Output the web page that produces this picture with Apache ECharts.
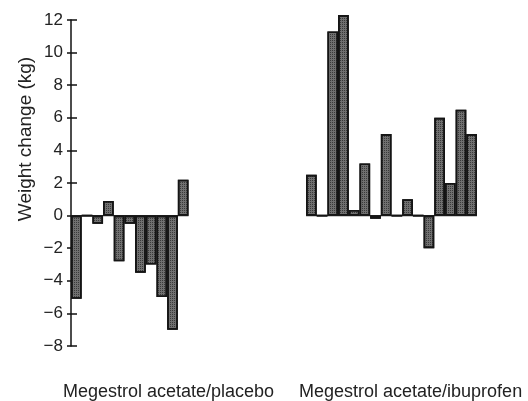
<!DOCTYPE html>
<html>
<head>
<meta charset="utf-8">
<style>
  html, body { margin: 0; padding: 0; background: #fff; }
  #chart { width: 528px; height: 401px; }
</style>
<script src="https://cdn.jsdelivr.net/npm/echarts@6/dist/echarts.min.js"></script>
</head>
<body>
<div id="chart"></div>
<script>
// Weight change per patient (kg)
const groupNames = ['Megestrol acetate/placebo', 'Megestrol acetate/ibuprofen'];
const placebo = [-5.1, 0, -0.5, 0.9, -2.8, -0.5, -3.5, -3.0, -5.0, -7.0, 2.2];
const ibuprofen = [2.5, 0, 11.3, 12.3, 0.35, 3.2, -0.2, 5.0, 0, 1.0, 0, -2.0, 6.0, 2.0, 6.5, 5.0];
const gapSlots = 11; // empty slots between the two groups
const yTicks = { min: -8, max: 12, interval: 2 };

const gap = new Array(gapSlots).fill(null);
const values = placebo.concat(gap, ibuprofen);
const categories = values.map((_, i) => 'p' + (i + 1));
const nSlots = values.length;
const ibuStart = placebo.length + gapSlots;

const minus = v => String(v).replace('-', '\u2212');
const font = 'Liberation Sans, Arial, sans-serif';

const chart = echarts.init(document.getElementById('chart'));
chart.setOption({
  animation: false,
  grid: { left: 71, right: 51, top: 20, bottom: 55 },
  xAxis: [
    { type: 'category', data: categories, show: false },
    { type: 'value', min: 0, max: nSlots, show: false }
  ],
  yAxis: [
    {
      type: 'value', min: yTicks.min, max: yTicks.max, interval: yTicks.interval,
      axisLine: { show: true, lineStyle: { color: '#111', width: 1.5 } },
      axisTick: { show: true, length: 4, lineStyle: { color: '#111', width: 1.5 } },
      axisLabel: { margin: 8, fontSize: 17, color: '#222', fontFamily: font, formatter: minus },
      splitLine: { show: false }
    },
    {
      type: 'value', min: yTicks.min, max: yTicks.max, interval: yTicks.interval, position: 'left',
      axisLine: { show: false },
      axisTick: { show: true, inside: true, length: 6, lineStyle: { color: '#111', width: 1.5 } },
      axisLabel: { show: false },
      splitLine: { show: false }
    }
  ],
  graphic: [
    { type: 'text', left: 63, top: 383, style: { text: groupNames[0], fontSize: 18, fill: '#222', fontFamily: font } },
    { type: 'text', left: 299, top: 383, style: { text: groupNames[1], fontSize: 18, fill: '#222', fontFamily: font } },
    { type: 'text', x: 26, y: 139, rotation: Math.PI / 2,
      style: { text: 'Weight change (kg)', fontSize: 19, fill: '#222', fontFamily: font, align: 'center', verticalAlign: 'middle' } }
  ],
  series: [
    {
      type: 'line', xAxisIndex: 1, yAxisIndex: 0, symbol: 'none', z: 1,
      lineStyle: { color: '#333', width: 1.2 },
      data: [[0, 0], [placebo.length, 0], null, [ibuStart, 0], [nSlots, 0]],
      connectNulls: false
    },
    {
      type: 'bar', xAxisIndex: 0, yAxisIndex: 0, barCategoryGap: 0, z: 2, clip: false,
      data: values,
      itemStyle: {
        color: '#707070', borderColor: '#151515', borderWidth: 1.6,
        decal: { symbol: 'rect', symbolSize: 1, dashArrayX: [1, 1], dashArrayY: [1, 1], color: 'rgba(15,15,15,0.55)', rotation: 0 }
      }
    }
  ]
});
</script>
</body>
</html>
